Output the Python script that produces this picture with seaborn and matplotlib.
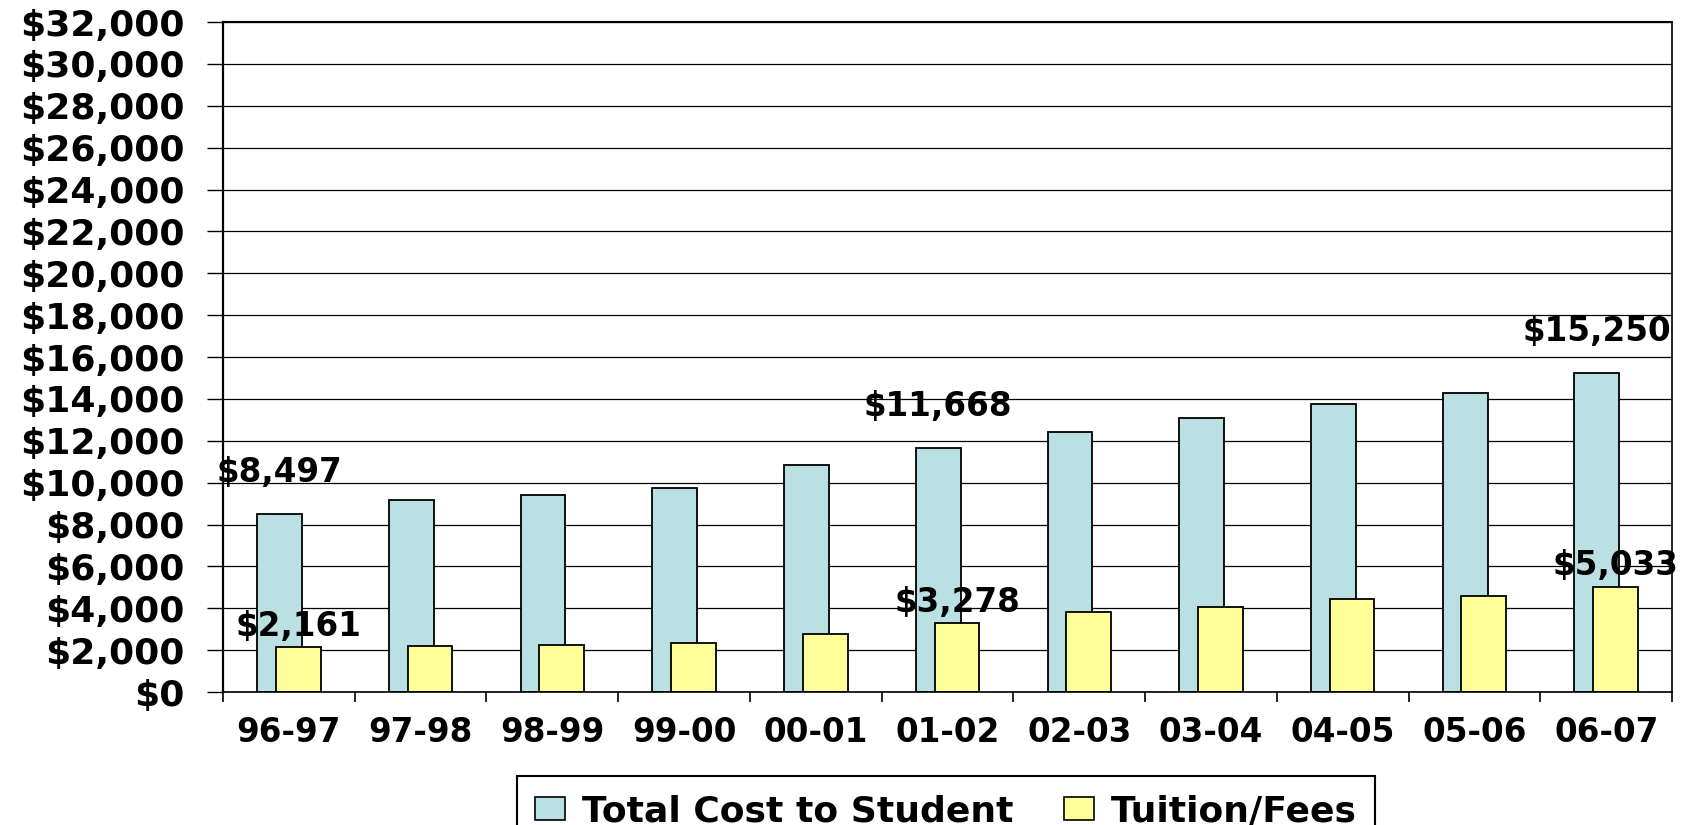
import numpy as np
import pandas as pd
import matplotlib
matplotlib.use("Agg")
import matplotlib.pyplot as plt
from matplotlib.patches import Patch
from matplotlib.ticker import FuncFormatter, MultipleLocator, FixedLocator
import seaborn as sns

# Academic years and yearly cost figures (dollars)
years = ["96-97", "97-98", "98-99", "99-00", "00-01", "01-02",
         "02-03", "03-04", "04-05", "05-06", "06-07"]
total_cost = [8497, 9170, 9420, 9760, 10850, 11668, 12440, 13100, 13760, 14300, 15250]
tuition_fees = [2161, 2200, 2260, 2356, 2760, 3278, 3840, 4050, 4450, 4585, 5033]
series_names = ["Total Cost to Student", "Tuition/Fees"]
labeled_years = ["96-97", "01-02", "06-07"]

TEAL = "#BBE0E3"
YELLOW = "#FFFF99"

sns.set_theme(style="white")
plt.rcParams["font.family"] = ["DejaVu Sans"]
plt.rcParams["font.weight"] = "bold"
for key in ["text.color", "axes.labelcolor", "xtick.color", "ytick.color"]:
    plt.rcParams[key] = "black"

fig = plt.figure(figsize=(16.82, 8.25), dpi=100)
ax = fig.add_axes([0.1326, 0.1612, 0.8615, 0.8121])

# The two series overlap within each year: cost bar behind, tuition bar in front
idx = np.arange(len(years))
shift = 0.071
bar_w = 0.34
df = pd.DataFrame({
    "year": years,
    "pos_total": idx - shift,
    "pos_tuition": idx + shift,
    "total": total_cost,
    "tuition": tuition_fees,
})

sns.barplot(data=df, x="pos_total", y="total", native_scale=True, width=bar_w,
            color=TEAL, saturation=1, edgecolor="black", linewidth=1.3,
            errorbar=None, ax=ax)
sns.barplot(data=df, x="pos_tuition", y="tuition", native_scale=True, width=bar_w,
            color=YELLOW, saturation=1, edgecolor="black", linewidth=1.3,
            errorbar=None, ax=ax)

ax.set_xlabel("")
ax.set_ylabel("")

# Y axis: dollar gridlines every $2,000
ax.set_ylim(0, 32000)
ax.yaxis.set_major_locator(MultipleLocator(2000))
ax.yaxis.set_major_formatter(FuncFormatter(lambda v, _: f"${v:,.0f}"))
ax.set_axisbelow(True)
ax.yaxis.grid(True, color="black", linewidth=0.9)
ax.xaxis.grid(False)
ax.tick_params(axis="y", which="major", length=11.5, width=1.0, color="black",
               direction="out", pad=16, labelsize=26, labelcolor="black", left=True)

# X axis: labels centred on each year, tick marks between years
ax.set_xlim(-0.5, len(years) - 0.5)
ax.xaxis.set_major_locator(FixedLocator(idx))
ax.set_xticklabels(years)
ax.xaxis.set_minor_locator(FixedLocator(np.arange(-0.5, len(years), 1.0)))
ax.tick_params(axis="x", which="major", length=0, pad=17, labelsize=23.5,
               labelcolor="black", bottom=True)
ax.tick_params(axis="x", which="minor", length=7.5, width=1.2, color="black",
               direction="out", bottom=True)

for side, lw in {"left": 1.6, "top": 1.5, "right": 1.2, "bottom": 1.2}.items():
    ax.spines[side].set_visible(True)
    ax.spines[side].set_color("black")
    ax.spines[side].set_linewidth(lw)

# Value labels for first, middle and last years
for yr in labeled_years:
    i = years.index(yr)
    ax.annotate(f"${total_cost[i]:,}", xy=(i - shift, total_cost[i]),
                xytext=(0, 18), textcoords="offset points",
                ha="center", va="bottom", fontsize=23.5, fontweight="bold")
    ax.annotate(f"${tuition_fees[i]:,}", xy=(i + shift, tuition_fees[i]),
                xytext=(0, 3), textcoords="offset points",
                ha="center", va="bottom", fontsize=23.5, fontweight="bold")

handles = [
    Patch(facecolor=TEAL, edgecolor="black", linewidth=1.2, label=series_names[0]),
    Patch(facecolor=YELLOW, edgecolor="black", linewidth=1.2, label=series_names[1]),
]
leg = fig.legend(handles=handles, loc="upper center",
                 bbox_to_anchor=(0.5622, 0.0594),
                 ncol=2, prop={"size": 26, "weight": "bold"}, frameon=True,
                 fancybox=False, edgecolor="black", framealpha=1,
                 handlelength=0.85, handleheight=0.62, handletextpad=0.45,
                 columnspacing=1.4, borderpad=0.5, borderaxespad=0)
leg.get_frame().set_linewidth(1.5)

fig.savefig("out.png", dpi=100)
